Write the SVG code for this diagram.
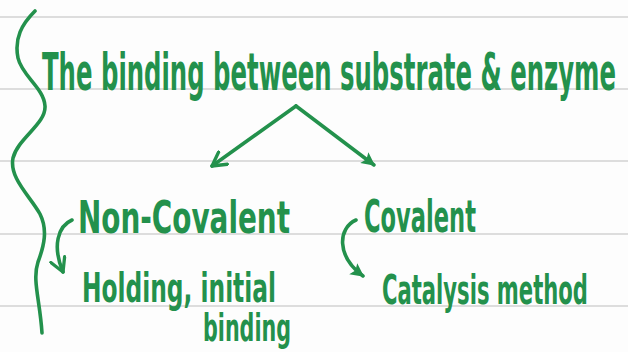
<svg xmlns="http://www.w3.org/2000/svg" width="628" height="352" viewBox="0 0 628 352">
  <defs>
    <style>
      .rule { stroke: #d2d2d2; stroke-width: 1.6; }
      .ink { fill: #23914c; font-family: "DejaVu Sans Condensed", "DejaVu Sans", sans-serif; font-weight: bold; }
      .pen { fill: none; stroke: #23914c; stroke-width: 3.6; stroke-linecap: round; stroke-linejoin: round; }
    </style>
    <marker id="head" viewBox="0 0 12 12" refX="10" refY="6" markerWidth="5" markerHeight="5" orient="auto" markerUnits="strokeWidth">
      <path d="M1,1 L10,6 L1,11" fill="none" stroke="#23914c" stroke-width="2.2" stroke-linecap="round" stroke-linejoin="round"/>
    </marker>
    <marker id="headSolid" viewBox="0 0 12 12" refX="10" refY="6" markerWidth="4.5" markerHeight="4.5" orient="auto" markerUnits="strokeWidth">
      <path d="M1,1 L11,6 L1,11 L3,6 Z" fill="#23914c"/>
    </marker>
  </defs>

  <!-- paper -->
  <rect width="628" height="352" fill="#fdfdfd"/>
  <g id="ruling">
    <line class="rule" x1="0" y1="17" x2="628" y2="17"/>
    <line class="rule" x1="0" y1="89" x2="628" y2="89"/>
    <line class="rule" x1="0" y1="161" x2="628" y2="161"/>
    <line class="rule" x1="0" y1="234" x2="628" y2="234"/>
    <line class="rule" x1="0" y1="306" x2="628" y2="306"/>
  </g>

  <!-- curly brace on the left margin -->
  <g id="brace">
    <path class="pen" d="M35,11 C22,24 14,38 18,58 C22,76 44,88 45,106 C46,124 18,138 13,158 C9,178 30,196 40,214 C48,230 44,246 38,262 C32,280 40,300 42,333"/>
  </g>

  <!-- nodes -->
  <g id="title">
    <text class="ink" x="42" y="90" font-size="52" textLength="574" lengthAdjust="spacingAndGlyphs">The binding between substrate &amp; enzyme</text>
  </g>
  <g id="non-covalent">
    <text class="ink" x="78" y="233" font-size="45" textLength="212" lengthAdjust="spacingAndGlyphs">Non-Covalent</text>
  </g>
  <g id="covalent">
    <text class="ink" x="364" y="232" font-size="45" textLength="112" lengthAdjust="spacingAndGlyphs">Covalent</text>
  </g>
  <g id="holding">
    <text class="ink" x="82" y="302" font-size="40" textLength="194" lengthAdjust="spacingAndGlyphs">Holding, initial</text>
    <text class="ink" x="203" y="341" font-size="37" textLength="88" lengthAdjust="spacingAndGlyphs">binding</text>
  </g>
  <g id="catalysis">
    <text class="ink" x="382" y="304" font-size="40" textLength="206" lengthAdjust="spacingAndGlyphs">Catalysis method</text>
  </g>

  <!-- connectors -->
  <g id="connectors">
    <path class="pen" d="M296,106 L212,166" marker-end="url(#head)"/>
    <path class="pen" d="M296,106 L374,165" marker-end="url(#headSolid)"/>
    <path class="pen" d="M72,220 C58,226 52,246 63,272" marker-end="url(#head)"/>
    <path class="pen" d="M356,220 C338,228 336,256 363,276" marker-end="url(#headSolid)"/>
  </g>
</svg>
